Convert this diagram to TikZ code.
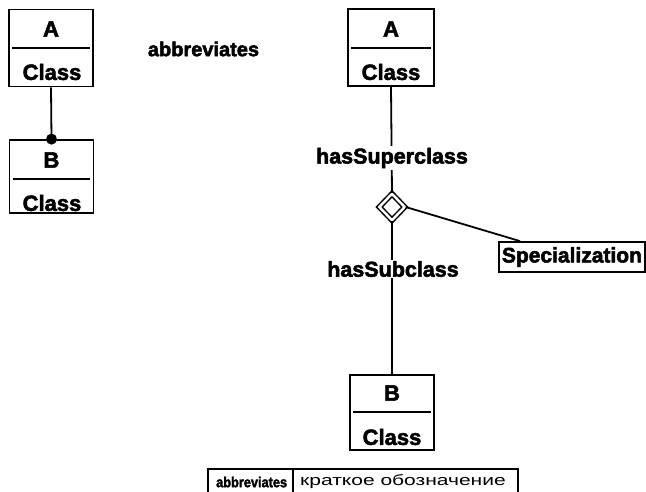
\documentclass[tikz,border=0pt]{standalone}
\usepackage{fontspec}
\setmainfont{Liberation Sans}[BoldFeatures={FakeBold=2.5}]
\usetikzlibrary{shapes.geometric}
\begin{document}
\begin{tikzpicture}[x=1pt,y=-1pt,
  box/.style={draw, line width=1.8pt, minimum width=84pt, inner sep=0pt},
  big/.style={font=\fontsize{22}{22}\selectfont\bfseries, inner sep=0pt},
  lbl/.style={font=\fontsize{21.5}{21.5}\selectfont\bfseries, fill=white, inner sep=1.5pt},
  ln/.style={line width=1.8pt},
  divider/.style={line width=1.4pt, shorten <=4pt, shorten >=4pt},
  cell/.style={font=\fontsize{13}{13}\selectfont, anchor=west, inner sep=0pt}]
\useasboundingbox (0,0) rectangle (646,491);

% left pair
\node[box, minimum height=77pt] (la) at (51,48) {};
\draw[divider] (la.west |- 0,48) -- (la.east |- 0,48);
\node[big] (laA) at (51,29) {A};
\node[big] (laC) at (52,72) {Class};

\node[box, minimum height=73pt] (lb) at (51.5,176.5) {};
\draw[divider] (lb.west |- 0,179) -- (lb.east |- 0,179);
\node[big] (lbB) at (51.5,160) {B};
\node[big] (lbC) at (52,203) {Class};

\draw[ln] (la.south) -- (lb.north);
\fill (lb.north) circle (5.5pt);

\node[font=\fontsize{20}{20}\selectfont\bfseries, inner sep=0pt] (abbr) at (203.5,49) {abbreviates};

% right structure
\node[box, minimum width=86pt, minimum height=77pt] (ra) at (391,47.5) {};
\draw[divider] (ra.west |- 0,48) -- (ra.east |- 0,48);
\node[big] (raA) at (391,29) {A};
\node[big] (raC) at (391,72) {Class};

\node[box, minimum height=75pt] (rb) at (392,412.5) {};
\draw[divider] (rb.west |- 0,412) -- (rb.east |- 0,412);
\node[big] (rbB) at (392,393) {B};
\node[big] (rbC) at (392,437) {Class};

\node[diamond, draw, line width=1.5pt, double=white, double distance=2.5pt,
      minimum width=26pt, minimum height=27pt, inner sep=0pt] (d) at (392,207) {};

\node[draw, line width=1.8pt, font=\fontsize{21}{21}\selectfont\bfseries,
      inner xsep=3pt, inner ysep=0pt, minimum height=30pt, anchor=west] (sp) at (498,257) {Specialization};

\draw[ln] (ra.south) -- (d.north);
\draw[ln] (d.south) -- (rb.north);
\draw[ln] (d.east) -- ([xshift=22pt]sp.north west);

\node[lbl] (sup) at (392,158) {hasSuperclass};
\node[lbl] (sub) at (393,269) {hasSubclass};

% table
\coordinate (t0) at (208,495);
\coordinate (t1) at (208,469);
\coordinate (t2) at (518,469);
\coordinate (t3) at (518,495);
\coordinate (m1) at (293,469);
\coordinate (m2) at (293,495);
\draw[ln] (t0) -- (t1) -- (t2) -- (t3);
\draw[ln] (m1) -- (m2);
\node[cell] (c1) at (216,482) {\scalebox{0.88}[1]{\fontsize{14.5}{14.5}\selectfont\bfseries abbreviates}};
\node[cell] (c2) at (300,482) {\scalebox{1.4}[1]{\fontsize{15}{15}\selectfont краткое обозначение}};
\end{tikzpicture}
\end{document}
